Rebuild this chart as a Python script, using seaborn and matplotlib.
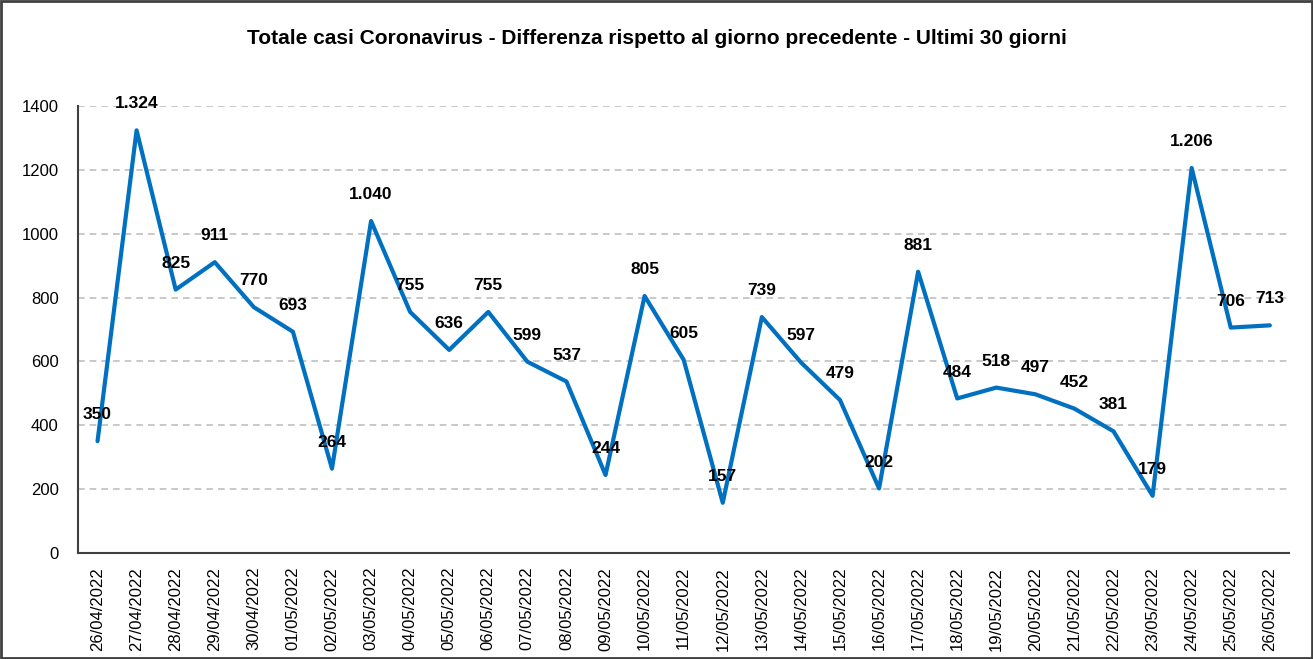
import numpy as np
import pandas as pd
import seaborn as sns
import matplotlib.pyplot as plt
from matplotlib.patches import Rectangle

dates = ["26/04/2022", "27/04/2022", "28/04/2022", "29/04/2022", "30/04/2022",
         "01/05/2022", "02/05/2022", "03/05/2022", "04/05/2022", "05/05/2022",
         "06/05/2022", "07/05/2022", "08/05/2022", "09/05/2022", "10/05/2022",
         "11/05/2022", "12/05/2022", "13/05/2022", "14/05/2022", "15/05/2022",
         "16/05/2022", "17/05/2022", "18/05/2022", "19/05/2022", "20/05/2022",
         "21/05/2022", "22/05/2022", "23/05/2022", "24/05/2022", "25/05/2022",
         "26/05/2022"]
cases = [350, 1324, 825, 911, 770, 693, 264, 1040, 755, 636, 755, 599, 537, 244,
         805, 605, 157, 739, 597, 479, 202, 881, 484, 518, 497, 452, 381, 179,
         1206, 706, 713]
yticks = [0, 200, 400, 600, 800, 1000, 1200, 1400]

sns.set_style("white")
plt.rcParams['font.family'] = ['Liberation Sans', 'DejaVu Sans']
plt.rcParams['text.color'] = 'black'
plt.rcParams['xtick.color'] = 'black'
plt.rcParams['ytick.color'] = 'black'

df = pd.DataFrame({"Data": dates, "Casi": cases})
df["pos"] = np.arange(len(df))

fig = plt.figure(figsize=(13.13, 6.59), dpi=100)
ax = fig.add_axes([0.0594, 0.161, 0.9226, 0.678])

sns.lineplot(data=df, x="pos", y="Casi", ax=ax, color="#0070C0", linewidth=3, sort=False)

# etichette con separatore migliaia all'italiana
for x, v in zip(df["pos"], df["Casi"]):
    lab = f"{v:,}".replace(",", ".")
    ax.annotate(lab, (x, v), xytext=(0, 19), textcoords="offset points",
                ha="center", va="center", fontsize=12.5, fontweight="bold", color="black")

ax.set_xlim(-0.5, len(df) - 0.5)
ax.set_ylim(0, 1400)
ax.set_yticks(yticks)
ax.set_yticklabels([str(t) for t in yticks], fontsize=12)
ax.set_xticks(df["pos"])
ax.set_xticklabels(df["Data"], rotation=90, fontsize=12)
ax.set_xticks(np.arange(-0.5, len(df)), minor=True)
ax.tick_params(axis="x", which="major", length=0, pad=10, labelcolor="black")
ax.tick_params(axis="x", which="minor", length=5, width=1.5, color="#404040", direction="out")
ax.tick_params(axis="y", length=0, pad=14, labelcolor="black")

for t in yticks[1:]:
    ax.axhline(t, color="#c0c0c0", linestyle=(0, (4, 3)), linewidth=1.2, zorder=0)

ax.set_xlabel("")
ax.set_ylabel("")
sns.despine(ax=ax)
for s in ["left", "bottom"]:
    ax.spines[s].set_color("#404040")
    ax.spines[s].set_linewidth(1.5)

fig.text(0.5, 0.942, "Totale casi Coronavirus - Differenza rispetto al giorno precedente - Ultimi 30 giorni",
         ha="center", va="center", fontsize=15, fontweight="bold", color="black")

fig.patches.append(Rectangle((0.001, 0.002), 0.998, 0.996, transform=fig.transFigure,
                             fill=False, edgecolor="#404040", linewidth=2))

fig.savefig("out.png", dpi=100)
